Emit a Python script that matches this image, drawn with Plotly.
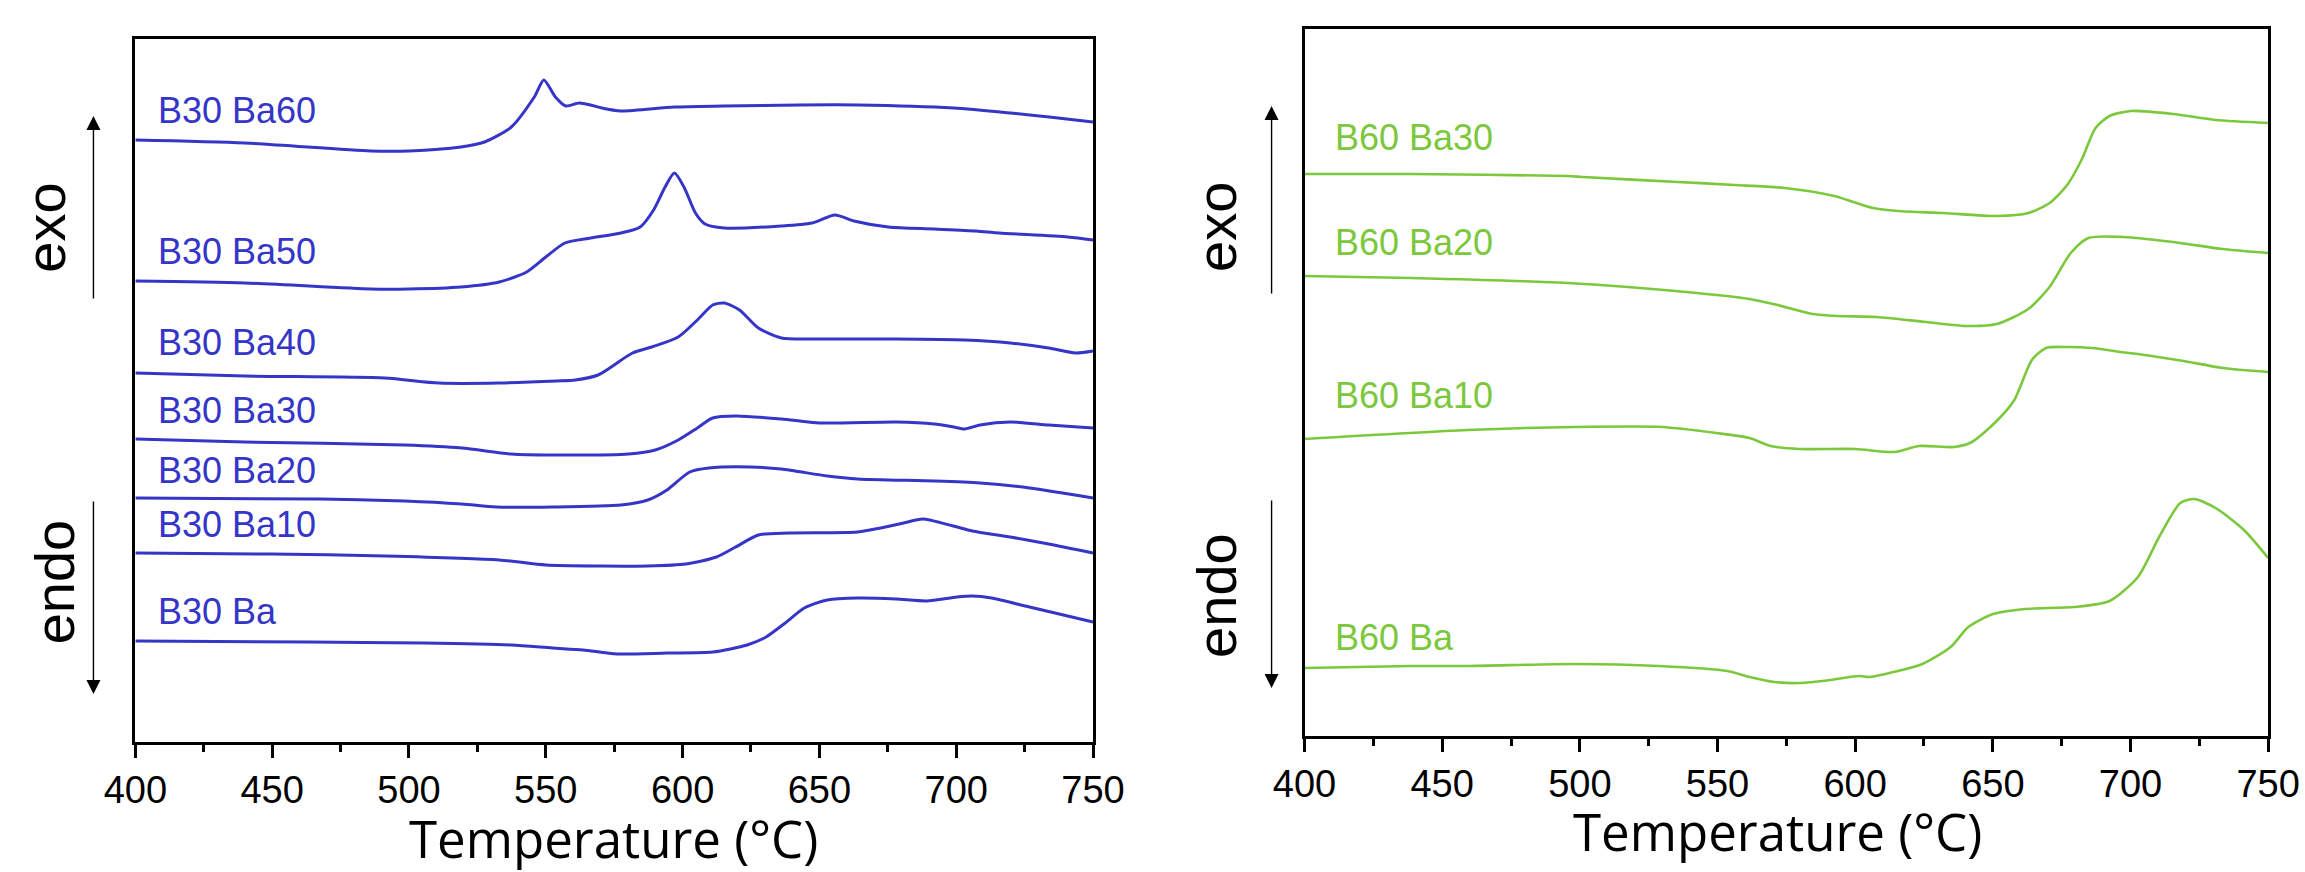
import plotly.graph_objects as go

# ---------------- data (temperature in °C, signal in arbitrary units) ----------------
# Left panel: B30 series
b30_ba60_T = [400, 440, 486, 500, 519, 527.6, 537.4, 545.8, 549.3, 553.5, 557.3, 562.2, 566.4, 570.5, 577.5, 597, 615, 643, 664, 699, 720, 734, 750]
b30_ba60_y = [602, 599, 591, 591, 595, 600, 615, 645, 662, 645, 636, 639, 637, 634, 631, 635, 636, 637, 637, 634, 629, 625, 620]

b30_ba50_T = [400, 440, 486, 500, 519, 533, 543, 550, 557, 566.4, 577.5, 584.5, 589.4, 593.6, 597, 600.5, 604.7, 608.2, 615.2, 636, 647.3, 655.7, 662.6, 675.2, 692, 707.3, 715.7, 740.8, 750]
b30_ba50_y = [461, 459, 453, 453, 455, 460, 470, 485, 499, 504, 509, 515, 532, 555, 569, 555, 529, 518, 514, 516, 519, 527, 521, 515, 513, 511, 509, 505, 502]

b30_ba40_T = [400, 440, 491, 511, 533, 554, 560.8, 569.1, 581.7, 588.7, 598.4, 605.4, 611, 615.2, 620.8, 627.7, 636.1, 650.1, 678, 703.1, 719.8, 733.8, 743.6, 750]
b30_ba40_y = [369, 366, 364, 359, 359, 361, 362, 367, 389, 395, 405, 422, 437, 439, 432, 414, 404, 403, 403, 402, 399, 394, 389, 391]

b30_ba30_T = [400, 440, 498.4, 519.3, 537.4, 552.4, 580.3, 590, 598.4, 605.4, 611, 619.4, 636.1, 650.1, 678, 692, 699, 703.1, 708.7, 719.8, 733.8, 750]
b30_ba30_y = [303, 300, 297, 294, 288, 287, 288, 292, 302, 314, 324, 326, 323, 319, 320, 318, 315, 313, 317, 320, 317, 314]

b30_ba20_T = [400, 467.7, 498.4, 519.3, 531.9, 552.4, 577.5, 587.3, 594.3, 602.6, 609.6, 625, 636.1, 652.9, 664, 692, 708.7, 726.8, 750]
b30_ba20_y = [244, 243, 241, 238, 235, 235, 237, 242, 252, 270, 274, 275, 273, 266, 263, 261, 259, 254, 244]

b30_ba10_T = [400, 449.5, 491.4, 533, 550, 570.6, 587.3, 601.2, 612.4, 619.4, 627.7, 638.9, 664, 672.4, 680.8, 687.7, 698.9, 705.9, 719.8, 733.8, 750]
b30_ba10_y = [189, 188, 186, 182, 177, 176, 176, 178, 185, 195, 207, 209, 210, 214, 219, 223, 216, 211, 205, 198, 189]

b30_ba_T = [400, 463.5, 505.3, 537.4, 552.4, 563.6, 576.1, 594.3, 611, 623.6, 630.5, 637.5, 644.5, 652.9, 664, 678, 689.1, 700.3, 705.9, 712.9, 726.8, 750]
b30_ba_y = [101, 100, 99, 97, 94, 92, 88, 89, 90, 97, 105, 119, 134, 142, 144, 143, 141, 145, 146, 144, 135, 120]

# Right panel: B60 series
b60_ba30_T = [400, 438.5, 495.4, 501, 535.6, 556.4, 574.4, 592.4, 606.5, 615.5, 632.1, 651.4, 662.9, 670.6, 677, 682.2, 687.3, 692.4, 700.1, 715.5, 730.9, 750]
b60_ba30_y = [562, 562, 560, 559, 554, 551, 548, 540, 528, 525, 523, 520, 523, 533, 551, 576, 608, 620, 625, 622, 616, 613]

b60_ba20_T = [400, 438.5, 495.4, 542.5, 561.6, 571.9, 584.7, 593.7, 607.8, 625.7, 641.1, 651.4, 662.9, 670.6, 678.3, 684.7, 697.5, 715.5, 733.5, 750]
b60_ba20_y = [460, 458, 453, 443, 437, 431, 422, 420, 419, 414, 410, 412, 427, 449, 483, 498, 499, 494, 487, 483]

b60_ba10_T = [400, 459.3, 498.2, 530, 549.5, 561.6, 569.3, 579.6, 600.1, 614.2, 623.2, 636, 642.4, 651.4, 657.8, 664.2, 669.3, 677, 686, 696.3, 705.2, 719.3, 733.5, 750]
b60_ba10_y = [297, 306, 309, 309, 303, 298, 290, 287, 287, 284, 290, 289, 294, 315, 336, 376, 388, 389, 388, 384, 381, 375, 368, 364]

b60_ba_T = [400, 438.5, 459.3, 498.2, 528.7, 553.6, 561.6, 570.6, 579.6, 591.1, 601.4, 605.2, 615.5, 624.4, 634.7, 641.1, 650.1, 661.6, 679.6, 692.4, 702.7, 710.4, 718.1, 723.2, 730.9, 741.2, 750]
b60_ba_y = [68, 70, 70, 72, 70, 65, 59, 54, 53, 56, 60, 59, 65, 72, 89, 109, 122, 127, 129, 135, 159, 199, 233, 237, 228, 206, 178]

left_names = ["B30 Ba60", "B30 Ba50", "B30 Ba40", "B30 Ba30", "B30 Ba20", "B30 Ba10", "B30 Ba"]
left_label_y = [631, 491, 400, 332, 272, 218, 131]
right_names = ["B60 Ba30", "B60 Ba20", "B60 Ba10", "B60 Ba"]
right_label_y = [599, 494, 341, 99]

x_ticks = [400, 450, 500, 550, 600, 650, 700, 750]

BLUE = "#3535C8"
GREEN = "#7CC83C"

left_series = [(b30_ba60_T, b30_ba60_y), (b30_ba50_T, b30_ba50_y), (b30_ba40_T, b30_ba40_y),
               (b30_ba30_T, b30_ba30_y), (b30_ba20_T, b30_ba20_y), (b30_ba10_T, b30_ba10_y),
               (b30_ba_T, b30_ba_y)]
right_series = [(b60_ba30_T, b60_ba30_y), (b60_ba20_T, b60_ba20_y), (b60_ba10_T, b60_ba10_y),
                (b60_ba_T, b60_ba_y)]

fig = go.Figure()
for name, (t, y) in zip(left_names, left_series):
    fig.add_trace(go.Scatter(x=t, y=y, mode="lines", name=name, xaxis="x", yaxis="y",
                             line=dict(color=BLUE, width=3, shape="spline", smoothing=0.7)))
for name, (t, y) in zip(right_names, right_series):
    fig.add_trace(go.Scatter(x=t, y=y, mode="lines", name=name, xaxis="x2", yaxis="y2",
                             line=dict(color=GREEN, width=2.6, shape="spline", smoothing=0.7)))

W, H = 2305, 872
# the photographed page appears horizontally compressed (~0.975 about the centre);
# horizontal page positions are pre-compensated so they land where the reference has them
SX, OX = 0.9746, 28.4
def px(x):
    return (x - OX) / SX

L_dom = [px(132) / W, px(1092) / W]
L_ydom = [1 - 742 / H, 1 - 39 / H]
R_dom = [px(1304) / W, min(px(2270) / W, 1.0)]
R_ydom = [1 - 736 / H, 1 - 29 / H]

tickfont = dict(family="Liberation Sans, Arial, sans-serif", size=38, color="black")

def xaxis(dom, anchor):
    return dict(domain=dom, anchor=anchor, range=[400, 750], tickvals=x_ticks,
                ticks="outside", ticklen=13, tickwidth=2.5, tickcolor="black",
                minor=dict(ticks="outside", ticklen=7, tickwidth=2.5, tickcolor="black", dtick=25, tick0=400),
                showline=True, linewidth=2.5, linecolor="black", mirror=True,
                showgrid=False, zeroline=False, tickfont=tickfont)

def topaxis(over, anchor):
    return dict(overlaying=over, anchor=anchor, side="top", range=[400, 750],
                tick0=400, dtick=25, ticks="outside", ticklen=4, tickwidth=1.5, tickcolor="#444",
                showticklabels=False, showline=False, showgrid=False, zeroline=False)

def yaxis(dom, anchor, rng):
    return dict(domain=dom, anchor=anchor, range=rng, showticklabels=False, ticks="",
                showline=True, linewidth=2.5, linecolor="black", mirror=True,
                showgrid=False, zeroline=False)

annotations = []
for name, ly in zip(left_names, left_label_y):
    annotations.append(dict(x=407.5, y=ly, xref="x", yref="y", text=name, showarrow=False,
                            xanchor="left", yanchor="middle",
                            font=dict(family="Liberation Sans, Arial, sans-serif", size=36, color=BLUE)))
for name, ly in zip(right_names, right_label_y):
    annotations.append(dict(x=410.5, y=ly, xref="x2", yref="y2", text=name, showarrow=False,
                            xanchor="left", yanchor="middle",
                            font=dict(family="Liberation Sans, Arial, sans-serif", size=36, color=GREEN)))

side_font = dict(family="Liberation Sans, Arial, sans-serif", size=56, color="black")
title_font = dict(family="Open Sans, sans-serif", size=51, color="black")

# exo / endo labels and arrows: (page-x of exo box, exo y, page-x of endo box, endo y,
#   arrow x, up-arrow tip, up-arrow tail, down-arrow tail, down-arrow tip)
side_specs = [
    (13, 228, 23, 582, px(90), 116, 300, 500, 694),
    (px(1222) - 7, 227, px(1222) - 7, 595, px(1271), 106, 295, 499, 688),
]
for (xe, ye, xn, yn, xa, up_tip, up_tail, dn_tail, dn_tip) in side_specs:
    annotations.append(dict(x=xe / W, y=1 - ye / H, xref="paper", yref="paper", text="exo",
                            textangle=-90, showarrow=False, xanchor="center", yanchor="middle", font=side_font))
    annotations.append(dict(x=xn / W, y=1 - yn / H, xref="paper", yref="paper", text="endo",
                            textangle=-90, showarrow=False, xanchor="center", yanchor="middle", font=side_font))
    annotations.append(dict(x=xa / W, y=1 - up_tip / H, xref="paper", yref="paper", text="",
                            showarrow=True, ax=0, ay=up_tail - up_tip, arrowhead=2, arrowsize=2.0,
                            arrowwidth=1.4, arrowcolor="black"))
    annotations.append(dict(x=xa / W, y=1 - dn_tip / H, xref="paper", yref="paper", text="",
                            showarrow=True, ax=0, ay=dn_tail - dn_tip, arrowhead=2, arrowsize=2.0,
                            arrowwidth=1.4, arrowcolor="black"))

annotations.append(dict(x=px(611) / W, y=1 - 838 / H, xref="paper", yref="paper", text="Temperature (°C)",
                        showarrow=False, xanchor="center", yanchor="middle", font=title_font))
annotations.append(dict(x=px(1778) / W, y=1 - 831 / H, xref="paper", yref="paper", text="Temperature (°C)",
                        showarrow=False, xanchor="center", yanchor="middle", font=title_font))

fig.update_layout(
    width=W, height=H, margin=dict(l=0, r=0, t=0, b=0),
    paper_bgcolor="white", plot_bgcolor="white", showlegend=False,
    xaxis=xaxis(L_dom, "y"), yaxis=yaxis(L_ydom, "x", [0, 703]),
    xaxis2=xaxis(R_dom, "y2"), yaxis2=yaxis(R_ydom, "x2", [0, 707]),
    xaxis3=topaxis("x", "y"), xaxis4=topaxis("x2", "y2"),
    annotations=annotations,
)

fig.write_html("out.html")
